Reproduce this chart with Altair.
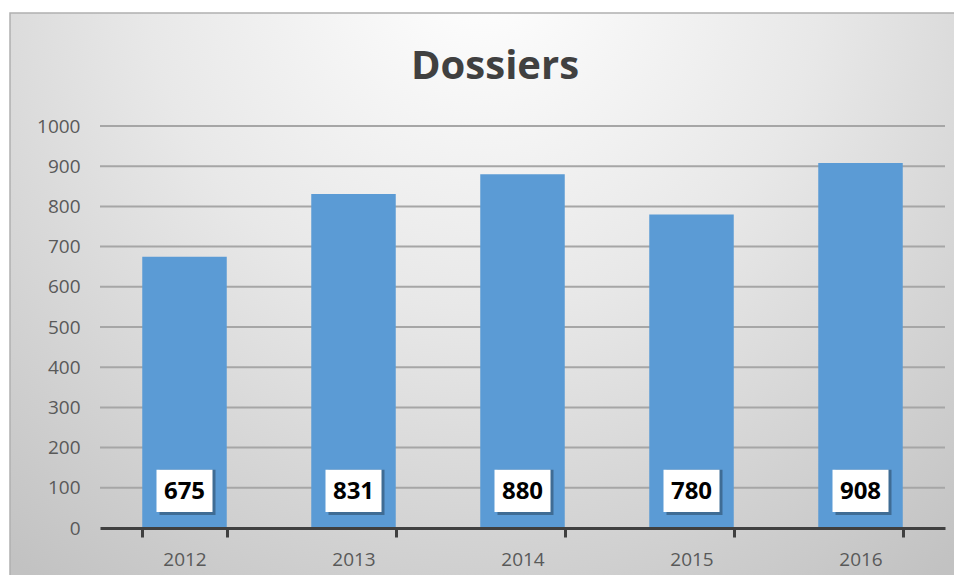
import altair as alt
import pandas as pd

years = ["2012", "2013", "2014", "2015", "2016"]
dossiers = [675, 831, 880, 780, 908]
y_ticks = [0, 100, 200, 300, 400, 500, 600, 700, 800, 900, 1000]
chart_title = "Dossiers"

df = pd.DataFrame({"year": years, "value": dossiers})
grid_df = pd.DataFrame({"tick": y_ticks[1:]})

W, H = 845, 402

xenc = alt.X("year:N", sort=years, title=None,
             scale=alt.Scale(paddingInner=0.5, paddingOuter=0.25),
             axis=alt.Axis(labelAngle=0, labelFontSize=19, labelColor="#595959",
                           labelFont="Open Sans", labelPadding=13,
                           domainColor="#404040", domainWidth=3,
                           tickColor="#404040", tickWidth=3, tickSize=9,
                           tickBand="extent", grid=False, zindex=1))
yenc = alt.Y("value:Q", title=None,
             scale=alt.Scale(domain=[0, 1000], nice=False),
             axis=alt.Axis(values=y_ticks, format="d", labelFontSize=19,
                           labelColor="#595959",
                           labelFont="Open Sans", labelPadding=20,
                           domain=False, ticks=False, grid=False, zindex=1))

grad = alt.RadialGradient(
    gradient="radial", x1=0.5, y1=0.15, r1=0, x2=0.5, y2=0.15, r2=0.8,
    stops=[alt.GradientStop(offset=0, color="#ffffff"),
           alt.GradientStop(offset=0.45, color="#e8e8e8"),
           alt.GradientStop(offset=1, color="#c2c2c2")])

bg = alt.Chart(alt.Data(values=[{"a": 1}])).mark_rect(
    fill=grad, stroke="#b0b0b0", strokeWidth=1.5).encode(
    x=alt.value(-90), x2=alt.value(855), y=alt.value(-113), y2=alt.value(460))

title_mark = alt.Chart(alt.Data(values=[{"t": chart_title}])).mark_text(
    fontSize=40, fontWeight="bold", font="Open Sans", color="#404040",
    baseline="middle", align="center").encode(
    text="t:N", x=alt.value(395), y=alt.value(-59))

gridlines = alt.Chart(grid_df).mark_rule(color="#a6a6a6", strokeWidth=2).encode(
    y=alt.Y("tick:Q"), x=alt.value(0), x2=alt.value(W))

base = alt.Chart(df)

bars = base.mark_bar(color="#5b9bd5").encode(x=xenc, y=yenc)

shadow = base.mark_bar(color="#000000", opacity=0.3, width=56, xOffset=3, yOffset=3).encode(
    x=alt.X("year:N", sort=years), y=alt.datum(40), y2=alt.datum(145))

box = base.mark_bar(color="#ffffff", width=56).encode(
    x=alt.X("year:N", sort=years), y=alt.datum(40), y2=alt.datum(145))

labels = base.mark_text(fontSize=24, fontWeight="bold", font="Open Sans",
                        color="#000000", baseline="middle").encode(
    x=alt.X("year:N", sort=years), y=alt.datum(90), text=alt.Text("value:Q"))

chart = alt.layer(bg, title_mark, gridlines, bars, shadow, box, labels).properties(
    width=W, height=H,
    autosize=alt.AutoSizeParams(type="none"),
    padding={"left": 92, "top": 118, "right": 9, "bottom": 47},
    background="#ffffff",
).configure_view(stroke=None)

chart.save("out.html", embed_options={"renderer": "svg", "actions": False})
